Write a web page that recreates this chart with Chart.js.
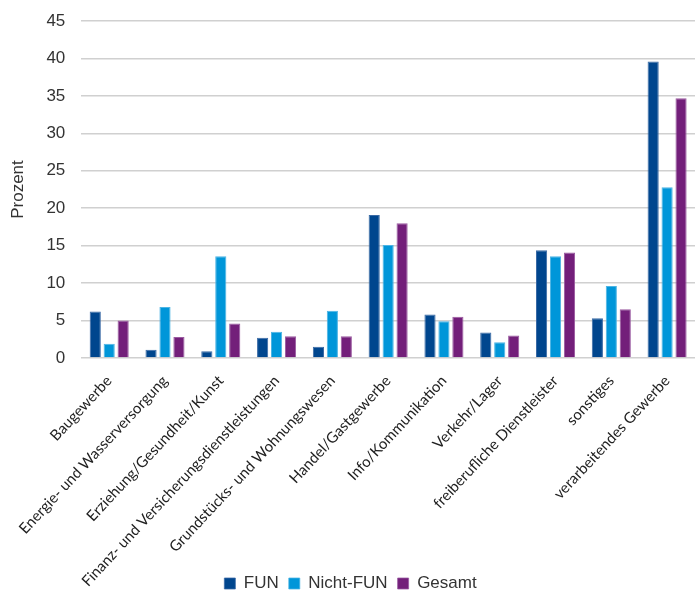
<!DOCTYPE html>
<html>
<head>
<meta charset="utf-8">
<script src="https://cdn.jsdelivr.net/npm/chart.js@4"></script>
<style>
  html, body { margin: 0; padding: 0; background: #fff; }
  #wrap { width: 699px; height: 594px; }
</style>
</head>
<body>
<div id="wrap"><canvas id="chart"></canvas></div>
<script>
// Branchen (Kategorien)
const categories = [
  'Baugewerbe',
  'Energie- und Wasserversorgung',
  'Erziehung/Gesundheit/Kunst',
  'Finanz- und Versicherungsdienstleistungen',
  'Grundstücks- und Wohnungswesen',
  'Handel/Gastgewerbe',
  'Info/Kommunikation',
  'Verkehr/Lager',
  'freiberufliche Dienstleister',
  'sonstiges',
  'verarbeitendes Gewerbe',
];
const funValues = [6.2, 1.1, 0.9, 2.7, 1.5, 19.1, 5.8, 3.4, 14.4, 5.3, 39.6];
const nichtFunValues = [1.9, 6.8, 13.6, 3.5, 6.3, 15.1, 4.9, 2.1, 13.6, 9.6, 22.8];
const gesamtValues = [5.0, 2.8, 4.6, 2.9, 2.9, 18.0, 5.5, 3.0, 14.1, 6.5, 34.7];
const yTicks = [0, 5, 10, 15, 20, 25, 30, 35, 40, 45];

const seriesNames = ['FUN', 'Nicht-FUN', 'Gesamt'];
const seriesColors = ['#00468e', '#0096d9', '#731f7a'];
const seriesBorders = ['#3a6aa5', '#4cb4e4', '#9a5aa0'];

const tickFont = { family: 'Liberation Sans', size: 17 };
const labelFont = { family: 'Lato', size: 15 };

const datasets = [funValues, nichtFunValues, gesamtValues].map((vals, i) => ({
  label: seriesNames[i],
  data: vals,
  backgroundColor: seriesColors[i],
  borderColor: seriesBorders[i],
  borderWidth: { top: 1, left: 1, right: 1, bottom: 0 },
  barPercentage: 0.8,
  categoryPercentage: 0.75,
}));

// the long category names run down beside the legend, so don't clip them
const noLabelClip = {
  id: 'noLabelClip',
  beforeDraw(chart) {
    chart.scales.x._computeLabelArea = () => undefined;
  },
};

new Chart(document.getElementById('chart'), {
  type: 'bar',
  data: { labels: categories, datasets },
  plugins: [noLabelClip],
  options: {
    responsive: true,
    maintainAspectRatio: false,
    animation: false,
    layout: { padding: { left: 6, right: 4, top: 21, bottom: -8 } },
    plugins: {
      tooltip: { enabled: false },
      legend: {
        position: 'bottom',
        labels: {
          boxWidth: 11,
          boxHeight: 11,
          padding: 10,
          color: '#333',
          font: { family: 'Liberation Sans', size: 17 },
        },
      },
    },
    scales: {
      x: {
        grid: { display: false, drawTicks: false },
        border: { display: false },
        ticks: {
          autoSkip: false,
          minRotation: 47,
          maxRotation: 47,
          color: '#222',
          font: labelFont,
          padding: 14,
        },
        afterFit: (axis) => {
          axis.height = 207;
        },
      },
      y: {
        min: 0,
        max: 45,
        afterBuildTicks: (axis) => {
          axis.ticks = yTicks.map((v) => ({ value: v }));
        },
        afterFit: (axis) => {
          axis.paddingTop = 0;
        },
        grid: { color: '#d0d0d0', lineWidth: 1.5, drawTicks: false },
        border: { display: false },
        ticks: { color: '#333', font: tickFont, padding: 16 },
        title: {
          display: true,
          text: 'Prozent',
          color: '#333',
          font: { family: 'Liberation Sans', size: 17 },
          padding: 2,
        },
      },
    },
  },
});
</script>
</body>
</html>
